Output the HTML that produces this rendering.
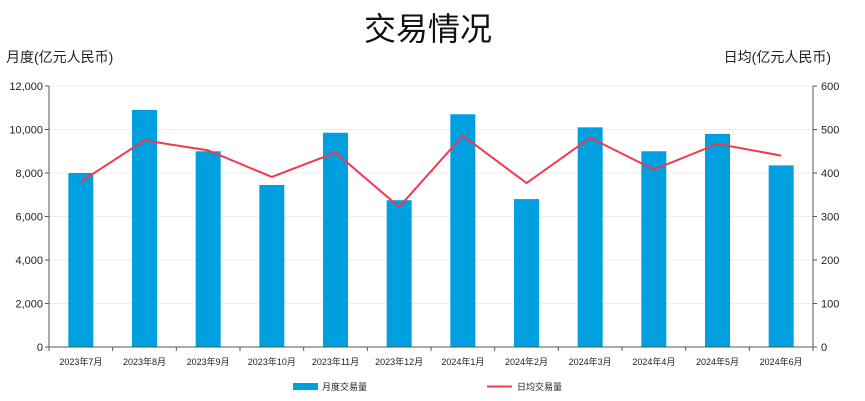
<!DOCTYPE html>
<html><head><meta charset="utf-8"><style>
html,body{margin:0;padding:0;background:#fff;width:865px;height:401px;overflow:hidden}
text{font-family:"Liberation Sans","Noto Sans CJK SC",sans-serif}
</style></head><body>
<svg id="chart" width="865" height="401" xmlns="http://www.w3.org/2000/svg">
<text x="428" y="40" font-size="32" text-anchor="middle" fill="#111">交易情况</text>
<text x="6" y="62" font-size="14" fill="#222">月度(亿元人民币)</text>
<text x="831" y="62" font-size="14" text-anchor="end" fill="#222">日均(亿元人民币)</text>
<g id="grid"></g><g id="bars"></g><g id="axes"></g><g id="line"></g>
<g>
<rect x="293" y="383" width="25" height="7" fill="#00a0e0"/>
<text x="322" y="390" font-size="9" fill="#222">月度交易量</text>
<line x1="487" y1="386.5" x2="512" y2="386.5" stroke="#f2384f" stroke-width="2"/>
<text x="517" y="390" font-size="9" fill="#222">日均交易量</text>
</g>
</svg>
<script>
const categories=["2023年7月","2023年8月","2023年9月","2023年10月","2023年11月","2023年12月","2024年1月","2024年2月","2024年3月","2024年4月","2024年5月","2024年6月"];
const monthlyValues=[8000,10900,9000,7450,9850,6750,10700,6800,10100,9000,9800,8350];
const dailyValues=[380,475,452,391,447,322,486,377,481,408,467,440];
const leftTicks=[0,2000,4000,6000,8000,10000,12000];
const rightTicks=[0,100,200,300,400,500,600];
const NS="http://www.w3.org/2000/svg";
const X0=49,X1=813,Y0=347,Y1=86,LMAX=12000,RMAX=600;
const band=(X1-X0)/categories.length;
const xc=i=>X0+band*(i+0.5);
const yl=v=>Y0-v/LMAX*(Y0-Y1);
const yr=v=>Y0-v/RMAX*(Y0-Y1);
function mk(tag,attrs,parent){const e=document.createElementNS(NS,tag);for(const k in attrs)e.setAttribute(k,attrs[k]);document.getElementById(parent).appendChild(e);return e;}
leftTicks.forEach((t,i)=>{
  const y=yl(t);
  if(t>0){const g=mk('line',{x1:X0,x2:X1,y1:y,y2:y,stroke:'#eee','stroke-width':1},'grid');
  
  }
  const lt=mk('text',{x:X0-6,y:y+4,'font-size':11,'text-anchor':'end',fill:'#222'},'axes');lt.textContent=t.toLocaleString('en-US');
  
  
  const rt=mk('text',{x:X1+8,y:yr(rightTicks[i])+4,'font-size':11,fill:'#222'},'axes');rt.textContent=rightTicks[i];
  
  
  const tk=mk('line',{x1:X1,x2:X1+4,y1:yr(rightTicks[i]),y2:yr(rightTicks[i]),stroke:'#555'},'axes');
  
  
  const tk2=mk('line',{x1:X0-4,x2:X0,y1:y,y2:y,stroke:'#555'},'axes');
  
  
});
monthlyValues.forEach((v,i)=>{
  const b=mk('rect',{x:xc(i)-12.5,y:yl(v),width:25,height:Y0-yl(v),fill:'#00a0e0'},'bars');
  
  
});
categories.forEach((c,i)=>{
  const t=mk('text',{x:xc(i),y:Y0+18,'font-size':9,'text-anchor':'middle',fill:'#222'},'axes');t.textContent=c;
  
  
});
for(let i=0;i<=categories.length;i++){
  const x=X0+band*i;
  const t=mk('line',{x1:x,x2:x,y1:Y0,y2:Y0+4,stroke:'#555'},'axes');
  
  
}
const ax=[[X0,Y1,X0,Y0],[X1,Y1,X1,Y0],[X0,Y0,X1,Y0]];
ax.forEach((a,i)=>{const l=mk('line',{x1:a[0],y1:a[1],x2:a[2],y2:a[3],stroke:'#555'},'axes');
  
  });
const pts=dailyValues.map((v,i)=>xc(i)+','+yr(v)).join(' ');
const pl=mk('polyline',{points:pts,fill:'none',stroke:'#f2384f','stroke-width':2},'line');


</script>
</body></html>
